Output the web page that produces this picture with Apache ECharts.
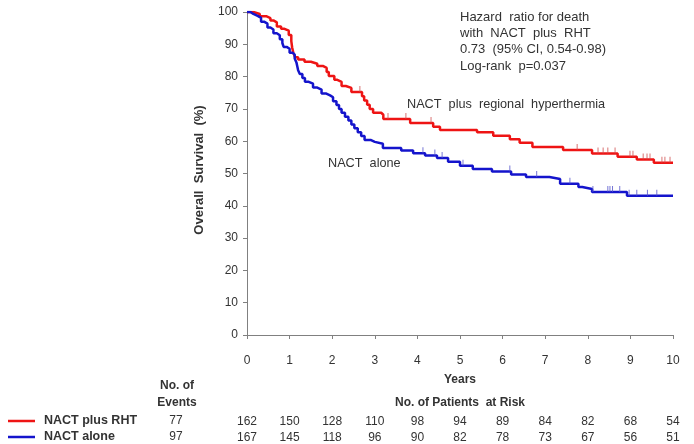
<!DOCTYPE html>
<html>
<head>
<meta charset="utf-8">
<script src="https://cdn.jsdelivr.net/npm/echarts@6/dist/echarts.min.js"></script>
<style>
html,body{margin:0;padding:0;background:#fff;}
#chart{width:694px;height:444px;}
</style>
</head>
<body>
<div id="chart"></div>
<script>
// ---- data ----
var yearTicks = [0,1,2,3,4,5,6,7,8,9,10];
var rhtSteps = [[0,100],[0.15,99.4],[0.3,98.7],[0.45,98.1],[0.55,97.4],[0.62,96.8],[0.7,95.5],[0.8,94.8],[0.88,94.2],[0.98,92.9],[1.04,91.0],[1.06,89.0],[1.09,87.2],[1.13,86.0],[1.2,85.3],[1.35,84.6],[1.5,84.0],[1.65,83.3],[1.78,82.7],[1.87,81.4],[1.92,80.2],[2.05,79.0],[2.12,78.4],[2.22,77.1],[2.32,76.5],[2.45,75.2],[2.7,73.9],[2.75,72.6],[2.82,71.3],[2.88,70.0],[2.96,68.8],[3.15,68.2],[3.2,66.9],[3.83,65.6],[4.37,64.5],[4.53,63.5],[5.4,62.8],[5.78,61.7],[6.17,60.6],[6.4,59.5],[6.7,58.2],[7.42,57.3],[8.1,56.2],[8.7,55.2],[9.15,54.3],[9.55,53.3],[10,53.3]];
var aloneSteps = [[0,100],[0.08,99.4],[0.15,98.8],[0.25,98.2],[0.33,97.0],[0.4,96.4],[0.48,95.2],[0.55,94.6],[0.62,93.4],[0.7,92.8],[0.77,91.6],[0.83,90.4],[0.86,89.2],[0.93,88.6],[1.0,87.4],[1.07,86.8],[1.12,85.6],[1.16,84.4],[1.18,83.2],[1.2,82.0],[1.24,80.8],[1.3,79.6],[1.36,78.4],[1.45,77.8],[1.55,76.6],[1.65,76.0],[1.75,74.8],[1.85,74.2],[1.95,73.6],[2.02,72.4],[2.1,71.2],[2.16,70.0],[2.22,68.8],[2.3,67.6],[2.38,66.4],[2.45,65.2],[2.52,64.0],[2.6,62.8],[2.68,61.6],[2.76,60.4],[2.9,59.8],[3.0,59.2],[3.19,57.9],[3.62,57.1],[3.9,56.3],[4.18,55.6],[4.46,54.8],[4.72,53.6],[5.0,52.4],[5.3,51.4],[5.75,50.6],[6.2,49.7],[6.55,48.9],[7.1,48.3],[7.35,46.8],[7.78,45.8],[7.87,45.2],[8.1,44.3],[8.92,43.1],[10,43.1]];
var rhtCensor = [2.65,3.31,3.73,4.32,7.75,8.24,8.36,8.47,8.64,8.99,9.06,9.3,9.39,9.46,9.74,9.81,9.93];
var aloneCensor = [4.13,4.41,4.58,5.07,6.17,6.8,7.58,8.12,8.47,8.52,8.58,8.75,8.97,9.15,9.4,9.62];
var riskRHT = [162,150,128,110,98,94,89,84,82,68,54];
var riskAlone = [167,145,118,96,90,82,78,73,67,56,51];
var eventsRHT = 77;
var eventsAlone = 97;
var groupNames = ['NACT plus RHT','NACT alone'];
var annotation = ['Hazard  ratio for death','with  NACT  plus  RHT','0.73  (95% CI, 0.54-0.98)','Log-rank  p=0.037'];

// ---- helpers ----
function survAt(steps, t){
  var v = steps[0][1];
  for (var i=0;i<steps.length;i++){ if (steps[i][0] <= t) v = steps[i][1]; }
  return v;
}
function censorPts(steps, times){ return times.map(function(t){ return [t, survAt(steps,t)]; }); }

var RED = '#ee1414', BLUE = '#1414cc';
var FONT = 'Liberation Sans, Arial, sans-serif';
var TXT = '#333333';

var chart = echarts.init(document.getElementById('chart'), null, {renderer:'canvas'});

function txt(x,y,s,opt){
  opt = opt||{};
  return {type:'text', x:x, y:y, rotation:opt.rot||0, silent:true,
    style:{text:s, fill:opt.fill||TXT, fontSize:opt.size||12, fontWeight:opt.bold?'bold':'normal', fontFamily:FONT,
      textAlign:opt.align||'left', textVerticalAlign:'middle'}};
}

var graphics = [];
annotation.forEach(function(s,i){ graphics.push(txt(460, 17+i*16.4, s, {size:13})); });
graphics.push(txt(407, 104, 'NACT  plus  regional  hyperthermia', {size:12.7}));
graphics.push(txt(328, 163, 'NACT  alone', {size:12.7}));
graphics.push(txt(199, 170, 'Overall  Survival  (%)', {bold:true, align:'center', rot:Math.PI/2, size:13}));
graphics.push(txt(460, 380, 'Years', {bold:true, align:'center'}));
graphics.push(txt(177, 386, 'No. of', {bold:true, align:'center'}));
graphics.push(txt(177, 403, 'Events', {bold:true, align:'center'}));
graphics.push(txt(460, 403, 'No. of Patients  at Risk', {bold:true, align:'center'}));
graphics.push(txt(44, 421, groupNames[0], {bold:true, size:12.5}));
graphics.push(txt(44, 437, groupNames[1], {bold:true, size:12.5}));
graphics.push(txt(176, 421, String(eventsRHT), {align:'center'}));
graphics.push(txt(176, 437, String(eventsAlone), {align:'center'}));
graphics.push({type:'line', silent:true, shape:{x1:8,y1:421,x2:35,y2:421}, style:{stroke:RED, lineWidth:2.5}});
graphics.push({type:'line', silent:true, shape:{x1:8,y1:437,x2:35,y2:437}, style:{stroke:BLUE, lineWidth:2.5}});

function riskAxis(arr, off){
  return {type:'value', gridIndex:0, position:'bottom', min:0, max:10, interval:1, offset:off,
    axisLine:{show:false}, axisTick:{show:false}, splitLine:{show:false},
    axisLabel:{show:true, margin:0, color:TXT, fontSize:12, fontFamily:FONT,
      formatter:function(v){ return String(arr[Math.round(v)]); }}};
}

var option = {
  animation:false,
  backgroundColor:'#ffffff',
  grid:{left:247, right:21, top:12, bottom:109, containLabel:false},
  xAxis:[
    {type:'value', min:0, max:10, interval:1, offset:4,
      axisLine:{show:true, lineStyle:{color:'#808080', width:1}},
      axisTick:{show:true, length:4, lineStyle:{color:'#808080'}},
      axisLabel:{color:TXT, fontSize:12, fontFamily:FONT, margin:16},
      splitLine:{show:false}},
    riskAxis(riskRHT, 81),
    riskAxis(riskAlone, 97)
  ],
  yAxis:{type:'value', min:0, max:100, interval:10, offset:3,
    axisLine:{show:true, lineStyle:{color:'#808080', width:1}},
    axisTick:{show:true, length:4, lineStyle:{color:'#808080'}},
    axisLabel:{color:TXT, fontSize:12, fontFamily:FONT, margin:6},
    splitLine:{show:false}},
  series:[
    {type:'line', name:groupNames[0], step:'end', data:rhtSteps, showSymbol:false, xAxisIndex:0,
      lineStyle:{color:RED, width:2.5}, itemStyle:{color:RED}, z:3},
    {type:'line', name:groupNames[1], step:'end', data:aloneSteps, showSymbol:false, xAxisIndex:0,
      lineStyle:{color:BLUE, width:2.5}, itemStyle:{color:BLUE}, z:4},
    {type:'scatter', data:censorPts(rhtSteps, rhtCensor), xAxisIndex:0, symbol:'rect', symbolSize:[1,6], symbolOffset:[0,-3],
      itemStyle:{color:'#d05050'}, z:5, silent:true},
    {type:'scatter', data:censorPts(aloneSteps, aloneCensor), xAxisIndex:0, symbol:'rect', symbolSize:[1,6], symbolOffset:[0,-3],
      itemStyle:{color:'#5555cc'}, z:5, silent:true}
  ],
  graphic:graphics
};
chart.setOption(option);
</script>
</body>
</html>
